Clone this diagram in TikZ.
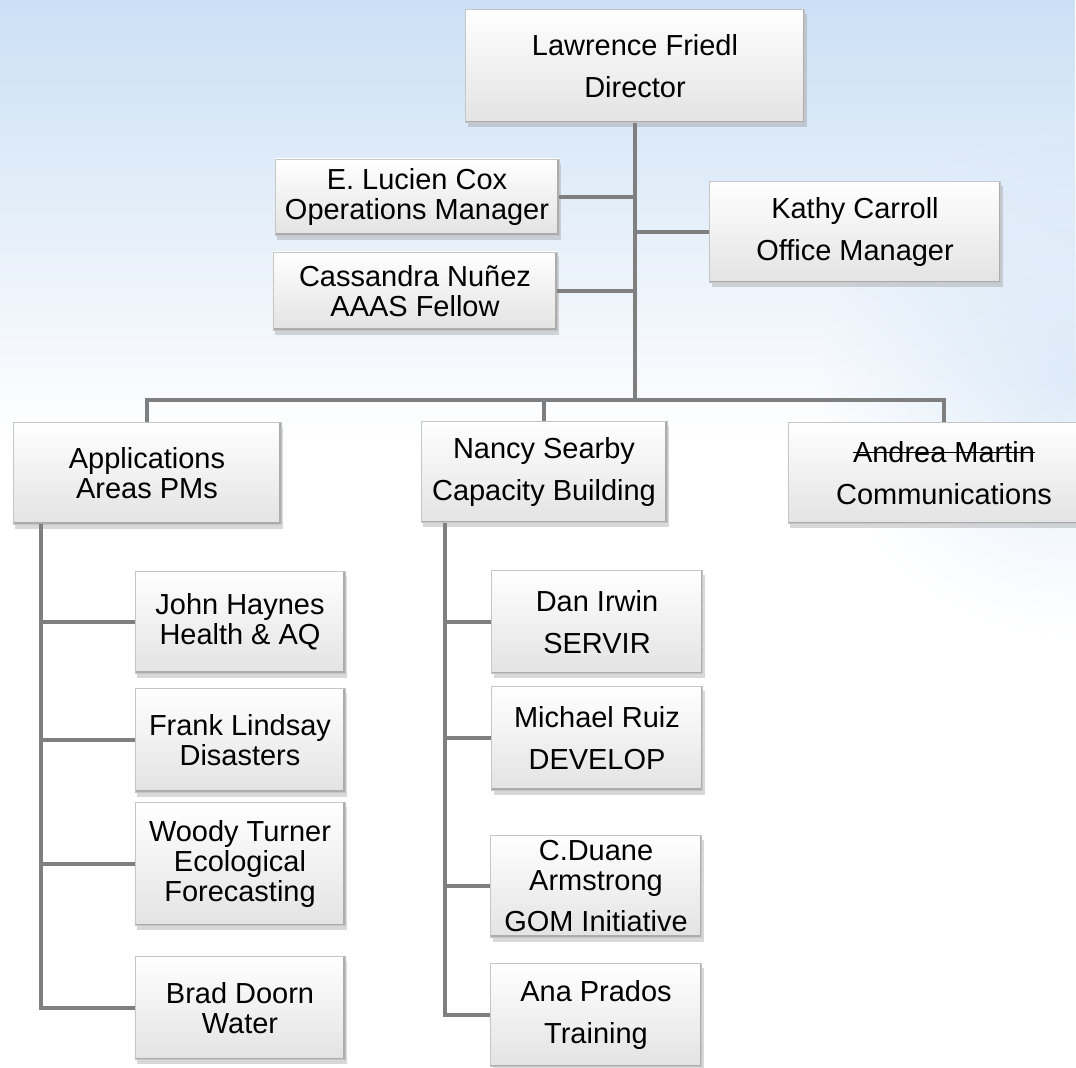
\documentclass[tikz,border=0pt]{standalone}
\usepackage{fontspec}
\setmainfont{Liberation Sans}
\usetikzlibrary{shadows,fadings}
\definecolor{skyblue}{HTML}{CCE0F5}
\definecolor{linegray}{HTML}{7F7F7F}
\newlength\strikelen
\newcommand\strikeout[1]{\settowidth{\strikelen}{#1}\rlap{\rule[0.3em]{\strikelen}{0.9pt}}#1}
\tikzstyle{person} = [rectangle, draw=gray!45, line width=0.6pt,
top color=white, bottom color=gray!22, align=center, inner sep=2pt,
font=\fontsize{20.6}{21.3}\selectfont,
drop shadow={opacity=0.3, shadow xshift=0.6mm, shadow yshift=-1.2mm},
path picture={\draw[gray!65, line width=2.4pt] (path picture bounding box.north east) -- (path picture bounding box.south east) -- (path picture bounding box.south west);}]
\tikzstyle{link} = [draw=linegray, line width=3.5pt]

\begin{document}
\begin{tikzpicture}[x=0.025cm, y=-0.025cm]
    \useasboundingbox (0,0) rectangle (1076,1067);
    % background
    \fill[white] (0,0) rectangle (1076,1067);
    \shade[inner color=skyblue!60, outer color=white] (1076,380) ellipse (260 and 260);
    \fill[skyblue, path fading=south] (0,0) rectangle (1076,440);

    % Nodes
    \node[person, minimum width=8.48cm, minimum height=2.83cm] (friedl) at (635,66) {Lawrence Friedl\\[9pt]Director};
    \node[person, minimum width=7.1cm, minimum height=1.9cm] (cox) at (417,197) {E. Lucien Cox\\Operations Manager};
    \node[person, minimum width=7.1cm, minimum height=1.95cm] (nunez) at (415,291) {Cassandra Nuñez\\AAAS Fellow};
    \node[person, minimum width=7.28cm, minimum height=2.53cm] (carroll) at (855,232) {Kathy Carroll\\[9pt]Office Manager};

    \node[person, minimum width=6.7cm, minimum height=2.55cm] (apps) at (147,473) {Applications\\Areas PMs};
    \node[person, minimum width=6.15cm, minimum height=2.53cm] (searby) at (544,472) {Nancy Searby\\[9pt]Capacity Building};
    \node[person, minimum width=7.8cm, minimum height=2.53cm] (martin) at (944,473) {\strikeout{Andrea Martin}\\[9pt]Communications};

    \node[person, minimum width=5.25cm, minimum height=2.55cm] (haynes) at (240,622) {John Haynes\\Health \& AQ};
    \node[person, minimum width=5.25cm, minimum height=2.6cm] (lindsay) at (240,740) {Frank Lindsay\\Disasters};
    \node[person, minimum width=5.25cm, minimum height=3.08cm] (turner) at (240,864) {Woody Turner\\Ecological\\Forecasting};
    \node[person, minimum width=5.25cm, minimum height=2.58cm] (doorn) at (240,1008) {Brad Doorn\\Water};

    \node[person, minimum width=5.28cm, minimum height=2.58cm] (irwin) at (597,622) {Dan Irwin\\[9pt]SERVIR};
    \node[person, minimum width=5.28cm, minimum height=2.6cm] (ruiz) at (597,738) {Michael Ruiz\\[9pt]DEVELOP};
    \node[person, minimum width=5.28cm, minimum height=2.55cm] (armstrong) at (596,886) {C.Duane\\Armstrong\\[8pt]GOM Initiative};
    \node[person, minimum width=5.28cm, minimum height=2.58cm] (prados) at (596,1015) {Ana Prados\\[9pt]Training};

    % rails
    \coordinate (bar) at (0,400);
    \coordinate (appsrail) at (41,0);
    \coordinate (searbyrail) at (445,0);

    % lines
    \draw[link] (friedl.south) -- (friedl.south |- bar);
    \draw[link] (friedl.south |- cox.east) -- (cox.east);
    \draw[link] (friedl.south |- nunez.east) -- (nunez.east);
    \draw[link] (friedl.south |- carroll.west) -- (carroll.west);
    \foreach \n in {apps,searby,martin}
        \draw[link] (friedl.south |- bar) -| (\n.north);

    \foreach \n in {haynes,lindsay,turner,doorn}
        \draw[link] (apps.south -| appsrail) |- (\n.west);
    \foreach \n in {irwin,ruiz,armstrong,prados}
        \draw[link] (searby.south -| searbyrail) |- (\n.west);

\end{tikzpicture}
\end{document}
